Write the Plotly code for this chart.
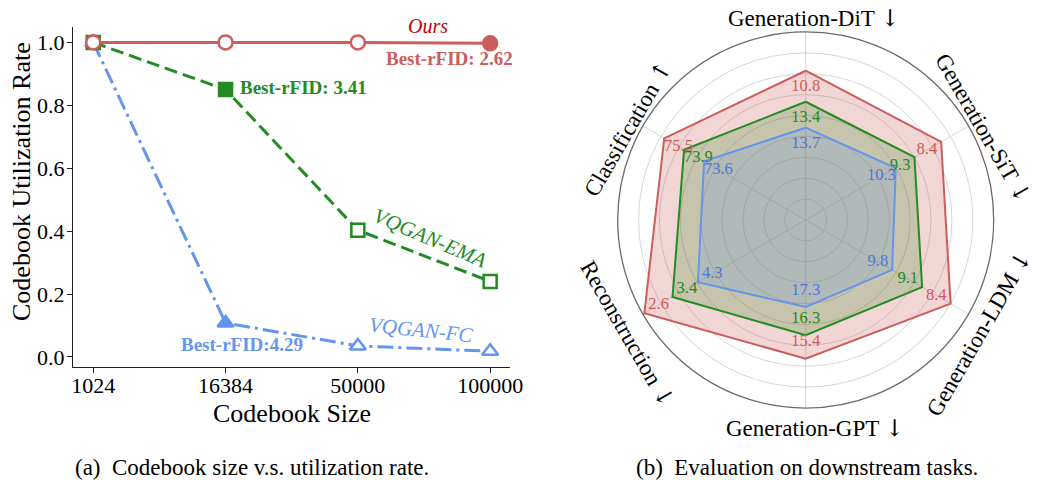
import math
import plotly.graph_objects as go

W, H = 1037, 480
FONT = "Liberation Serif"

# ---------------- data: left chart ----------------
codebook_sizes = ["1024", "16384", "50000", "100000"]
util_ours = [1.0, 1.0, 1.0, 0.997]
util_ema = [1.0, 0.85, 0.403, 0.24]
util_fc = [1.0, 0.108, 0.035, 0.018]
best_idx_ours = 3
best_idx_ema = 1
best_idx_fc = 1
y_ticks = [0.0, 0.2, 0.4, 0.6, 0.8, 1.0]

# ---------------- data: radar chart ----------------
radar_axes = ["Generation-DiT", "Generation-SiT", "Generation-LDM",
              "Generation-GPT", "Reconstruction", "Classification"]
radar_arrows = ["↓", "↓", "↓", "↓", "↓", "↑"]
radar_theta = [0, 60, 120, 180, 240, 300]
vals_ours = ["10.8", "8.4", "8.4", "15.4", "2.6", "75.5"]
vals_ema = ["13.4", "9.3", "9.1", "16.3", "3.4", "73.9"]
vals_fc = ["13.7", "10.3", "9.8", "17.3", "4.3", "73.6"]
# normalised radial positions
r_ours = [0.794, 0.832, 0.890, 0.738, 0.991, 0.869]
r_ema = [0.629, 0.668, 0.715, 0.613, 0.818, 0.747]
r_fc = [0.491, 0.553, 0.531, 0.463, 0.662, 0.624]
grid_levels = [k / 9 for k in range(1, 9)]

RED = "#CD5C5C"
RED_TXT = "#c00000"
GREEN = "#228B22"
BLUE = "#6495ED"


def px(x):
    return x / W


def py(y):
    return 1 - y / H


fig = go.Figure()

# ---------- left chart traces ----------
def marker_fill(n, best, color):
    return [color if i == best else "white" for i in range(n)]

fig.add_trace(go.Scatter(
    x=codebook_sizes, y=util_fc, mode="lines+markers",
    line=dict(color=BLUE, width=3, dash="16px,5px,3px,5px"),
    marker=dict(symbol="triangle-up", size=14, color=marker_fill(4, best_idx_fc, BLUE),
                line=dict(color=BLUE, width=2.5)),
    xaxis="x", yaxis="y", showlegend=False, cliponaxis=False))
fig.add_trace(go.Scatter(
    x=codebook_sizes, y=util_ema, mode="lines+markers",
    line=dict(color=GREEN, width=3, dash="13px,6px"),
    marker=dict(symbol="square", size=13, color=marker_fill(4, best_idx_ema, GREEN),
                line=dict(color=GREEN, width=2.5)),
    xaxis="x", yaxis="y", showlegend=False, cliponaxis=False))
fig.add_trace(go.Scatter(
    x=codebook_sizes, y=util_ours, mode="lines+markers",
    line=dict(color=RED, width=3),
    marker=dict(symbol="circle", size=14, color=marker_fill(4, best_idx_ours, RED),
                line=dict(color=RED, width=2.5)),
    xaxis="x", yaxis="y", showlegend=False, cliponaxis=False))

# ---------- radar traces ----------
def closed(a):
    return list(a) + [a[0]]

for r, col, fill in [(r_ours, RED, "rgba(205,92,92,0.25)"),
                     (r_ema, GREEN, "rgba(60,140,40,0.24)"),
                     (r_fc, BLUE, "rgba(100,149,237,0.2)")]:
    fig.add_trace(go.Scatterpolar(
        r=closed(r), theta=closed(radar_theta), mode="lines", fill="toself",
        fillcolor=fill, line=dict(color=col, width=2), showlegend=False,
        subplot="polar"))

TXT_OFF = 0.088
for r, vals, col in [(r_ours, vals_ours, "#d05a5a"),
                     (r_ema, vals_ema, GREEN),
                     (r_fc, vals_fc, "#4a78dc")]:
    fig.add_trace(go.Scatterpolar(
        r=[v - TXT_OFF for v in r], theta=radar_theta, mode="text", text=vals,
        textfont=dict(family=FONT, size=16.5, color=col), showlegend=False,
        subplot="polar"))

# ---------- layout ----------
cx, cy, R = 805.7, 220.0, 188.0
ax_l, ax_r, ax_t, ax_b = 73, 510, 27, 367

fig.update_layout(
    width=W, height=H, margin=dict(l=0, r=0, t=0, b=0, autoexpand=False),
    paper_bgcolor="white", plot_bgcolor="white",
    font=dict(family=FONT, color="black"),
    xaxis=dict(domain=[px(ax_l), px(ax_r)], type="category", range=[-0.153, 3.15],
               automargin=False, ticklabelstandoff=-7,
               showline=True, linecolor="#222", linewidth=1.3, ticks="outside",
               ticklen=5, tickwidth=1.2, tickcolor="#222", showgrid=False, zeroline=False,
               tickfont=dict(size=22, family=FONT), anchor="y"),
    yaxis=dict(domain=[py(ax_b), py(ax_t)], range=[-0.032, 1.049], tickvals=y_ticks,
               ticktext=[f"{v:.1f}" for v in y_ticks], automargin=False,
               ticklabelstandoff=-2,
               showline=True, linecolor="#222", linewidth=1.3, ticks="outside",
               ticklen=5, tickwidth=1.2, tickcolor="#222", showgrid=False, zeroline=False,
               tickfont=dict(size=22, family=FONT), anchor="x"),
    polar=dict(
        domain=dict(x=[px(cx - R), px(cx + R)], y=[py(cy + R), py(cy - R)]),
        bgcolor="white",
        radialaxis=dict(range=[0, 1], tickvals=grid_levels, showticklabels=False,
                        ticks="", showline=False, gridcolor="#d6d6d6", gridwidth=1),
        angularaxis=dict(rotation=90, direction="clockwise", tickvals=radar_theta,
                         showticklabels=False, ticks="", gridcolor="#d6d6d6",
                         showline=True, linecolor="#6a6a6a", linewidth=1.3),
    ),
)

ann = []


def paper_ann(text, x, y, size, color="black", angle=0, xanchor="center"):
    return dict(text=text, x=px(x), y=py(y), xref="paper", yref="paper",
                xanchor=xanchor, yanchor="middle", showarrow=False, textangle=angle,
                font=dict(size=size, color=color, family=FONT))


def data_ann(text, x, y, size, color, angle=0, xanchor="center"):
    return dict(text=text, x=x, y=y, xref="x", yref="y", xanchor=xanchor,
                yanchor="middle", showarrow=False, textangle=angle,
                font=dict(size=size, color=color, family=FONT))


# axis titles
ann.append(paper_ann("Codebook Size", (ax_l + ax_r) / 2, 413, 26))
ann.append(paper_ann("Codebook Utilization Rate", 21, 182, 26, angle=-90))
# series labels
ann.append(paper_ann("<i>Ours</i>", 428, 26, 20, RED_TXT))
ann.append(data_ann("<b>Best-rFID: 2.62</b>", 2.695, 0.948, 19, RED))
ann.append(data_ann("<b>Best-rFID: 3.41</b>", 1.095, 0.858, 19, GREEN, xanchor="left"))
ann.append(data_ann("<i>VQGAN-EMA</i>", 2.545, 0.378, 21, GREEN, angle=23))
ann.append(data_ann("<i>VQGAN-FC</i>", 2.48, 0.086, 21, BLUE, angle=6))
ann.append(data_ann("<b>Best-rFID:4.29</b>", 1.124, 0.038, 19, BLUE))
# captions
ann.append(paper_ann("(a)  Codebook size v.s. utilization rate.", 252, 467, 23))
ann.append(paper_ann("(b)  Evaluation on downstream tasks.", 807, 467, 23))

# radar axis labels, placed tangentially around the circle
label_r = 205
label_dx = {0: 8, 60: 0, 120: -4, 180: 9, 240: 0, 300: 0}
for name, arrow, th in zip(radar_axes, radar_arrows, radar_theta):
    a = math.radians(th)
    lx = cx + label_r * math.sin(a) + label_dx[th]
    ly = cy - label_r * math.cos(a)
    if th in (0, 180):
        ang = 0
        ly += 3
    else:
        ly += 11
        ang = 60 if th in (60, 240) else -60
    text = f"{name} <span style='font-family:DejaVu Serif'>{arrow}</span>"
    ann.append(paper_ann(text, lx, ly, 23, angle=ang))

fig.update_layout(annotations=ann)
fig.write_html("out.html", config={"displayModeBar": False},
               post_script="document.body.style.margin='0px';")
